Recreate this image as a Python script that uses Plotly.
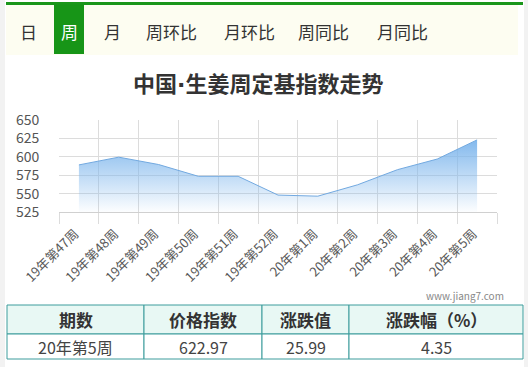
import plotly.graph_objects as go

W, H = 528, 367
FONT = "Noto Sans CJK SC"

# ---- data ----
WEEKS = ["19年第47周", "19年第48周", "19年第49周", "19年第50周", "19年第51周",
         "19年第52周", "20年第1周", "20年第2周", "20年第3周", "20年第4周", "20年第5周"]
INDEX = [589.0, 599.5, 589.5, 573.5, 573.5, 548.0, 546.5, 562.0, 582.5, 596.98, 622.97]
Y_MIN, Y_MAX, Y_STEP = 525, 650, 25

TABS = ["日", "周", "月", "周环比", "月环比", "周同比", "月同比"]
ACTIVE_TAB = "周"
TITLE_PARTS = ["中国", "·", "生姜周定基指数走势"]
WATERMARK = "www.jiang7.com"

TABLE_HEADERS = ["期数", "价格指数", "涨跌值", "涨跌幅（%）"]
TABLE_ROW = ["20年第5周", "622.97", "25.99", "4.35"]


def px(x):
    return x / W


def py(y):
    return 1 - y / H


fig = go.Figure()

# baseline for the area fill (axis minimum)
fig.add_trace(go.Scatter(x=WEEKS, y=[Y_MIN] * len(WEEKS), mode="lines",
                         line=dict(width=0, color="rgba(0,0,0,0)"),
                         hoverinfo="skip", showlegend=False))
fig.add_trace(go.Scatter(
    x=WEEKS, y=INDEX, mode="lines", fill="tonexty",
    line=dict(color="#72a9e0", width=1),
    fillgradient=dict(type="vertical", start=Y_MIN, stop=max(INDEX),
                      colorscale=[[0, "rgba(124,181,236,0.02)"],
                                  [1, "rgba(124,181,236,0.95)"]]),
    showlegend=False))

fig.update_xaxes(
    type="category", domain=[px(59), px(497)], range=[-0.5, len(WEEKS) - 0.5],
    tickson="boundaries", showgrid=True, gridcolor="#dcdcdc", gridwidth=1,
    ticks="outside", ticklen=11, tickcolor="#dcdcdc",
    showline=True, linecolor="#d0d0d0", linewidth=1,
    tickangle=-45, tickfont=dict(family=FONT, size=13, color="#595959"),
    ticklabelstandoff=8, ticklabelshift=-4,
    zeroline=False, fixedrange=True, automargin=False)
fig.update_yaxes(
    domain=[py(212), py(120)], range=[Y_MIN, Y_MAX],
    tickmode="array", tickvals=list(range(Y_MIN, Y_MAX + 1, Y_STEP)),
    showgrid=True, gridcolor="#dcdcdc", gridwidth=1,
    ticks="outside", ticklen=16, tickcolor="rgba(0,0,0,0)",
    tickfont=dict(family=FONT, size=14, color="#555"),
    zeroline=False, fixedrange=True, automargin=False)

shapes = [
    # side strips
    dict(type="rect", xref="paper", yref="paper", x0=0, x1=px(5), y0=0, y1=1,
         fillcolor="#f2f2f2", line=dict(width=0), layer="below"),
    dict(type="rect", xref="paper", yref="paper", x0=px(524), x1=1, y0=0, y1=1,
         fillcolor="#f2f2f2", line=dict(width=0), layer="below"),
    # tab bar
    dict(type="rect", xref="paper", yref="paper", x0=px(6), x1=px(518), y0=py(55), y1=py(4),
         fillcolor="#fdfdf1", line=dict(width=0), layer="below"),
    dict(type="rect", xref="paper", yref="paper", x0=px(6), x1=px(523), y0=py(5), y1=py(2),
         fillcolor="#1a961a", line=dict(width=0), layer="below"),
]

tab_x = [28, 69, 112, 171, 249, 323, 402]
annotations = []
for t, xc in zip(TABS, tab_x):
    active = t == ACTIVE_TAB
    if active:
        shapes.append(dict(type="rect", xref="paper", yref="paper", x0=px(54), x1=px(84),
                           y0=py(54), y1=py(4), fillcolor="#179517", line=dict(width=0),
                           layer="below"))
    annotations.append(dict(text=t, x=px(xc), y=py(31), xref="paper", yref="paper",
                            showarrow=False, xanchor="center", yanchor="middle",
                            font=dict(family=FONT, size=17,
                                      color="white" if active else "#333")))

title_html = "<b>%s<span style=\"font-family:DejaVu Sans\">%s</span>%s</b>" % tuple(TITLE_PARTS)
annotations.append(dict(text=title_html, x=px(258), y=py(82), xref="paper",
                        yref="paper", showarrow=False, xanchor="center", yanchor="middle",
                        font=dict(family=FONT, size=22, color="#333")))
annotations.append(dict(text=WATERMARK, x=px(506), y=py(295), xref="paper", yref="paper",
                        showarrow=False, xanchor="right", yanchor="middle",
                        font=dict(family=FONT, size=10, color="#888")))

# ---- table built from shapes + text ----
col_edges = [7, 144, 262, 349, 523]
row_edges = [305, 334, 359]
BORDER = "#3c9c9c"
for r in range(2):
    for c in range(4):
        shapes.append(dict(type="rect", xref="paper", yref="paper",
                           x0=px(col_edges[c]), x1=px(col_edges[c + 1]),
                           y0=py(row_edges[r + 1]), y1=py(row_edges[r]),
                           fillcolor="#e8f8f4" if r == 0 else "white",
                           line=dict(color=BORDER, width=1)))
for c in range(4):
    xc = (col_edges[c] + col_edges[c + 1]) / 2
    annotations.append(dict(text="<b>%s</b>" % TABLE_HEADERS[c], x=px(xc),
                            y=py((row_edges[0] + row_edges[1]) / 2),
                            xref="paper", yref="paper", showarrow=False,
                            xanchor="center", yanchor="middle",
                            font=dict(family=FONT, size=17, color="#333")))
    annotations.append(dict(text=TABLE_ROW[c], x=px(xc),
                            y=py((row_edges[1] + row_edges[2]) / 2),
                            xref="paper", yref="paper", showarrow=False,
                            xanchor="center", yanchor="middle",
                            font=dict(family=FONT, size=16, color="#444")))

fig.update_layout(width=W, height=H, margin=dict(l=0, r=0, t=0, b=0, autoexpand=False),
                  paper_bgcolor="white", plot_bgcolor="white",
                  shapes=shapes, annotations=annotations, showlegend=False)

fig.write_html("out.html", config={"displayModeBar": False})
